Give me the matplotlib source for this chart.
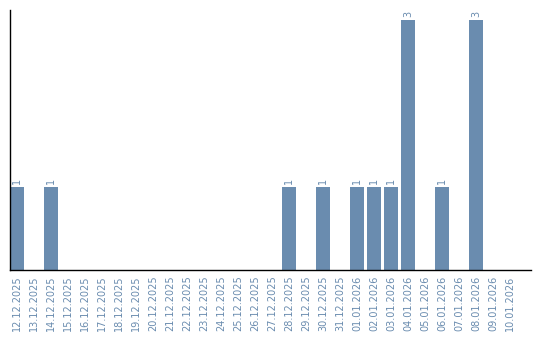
import matplotlib

matplotlib.use("Agg")
import matplotlib.pyplot as plt
import pandas as pd

dates = pd.date_range("2025-12-12", "2026-01-10", freq="D").strftime("%d.%m.%Y").tolist()
counts = [1, 0, 1, 0, 0, 0, 0, 0, 0, 0, 0, 0, 0, 0, 0, 0, 1, 0, 1, 0, 1, 1, 1, 3, 0, 1, 0, 3, 0, 0]

BAR = "#6a8caf"
BAR_W = 14 / 17

fig = plt.figure(figsize=(5.4, 3.4), dpi=100)
ax = fig.add_axes([0.0185, 0.206, 0.965, 0.765])
x = list(range(len(dates)))
centers = [xi + BAR_W / 2 for xi in x]
ax.bar(x, counts, width=BAR_W, align="edge", color=BAR)
for xc, c in zip(centers, counts):
    if c:
        ax.text(xc, c + 0.03, str(c), rotation=90, ha="center", va="bottom", fontsize=7, color=BAR)

ax.set_xlim(0, 521 / 17)
ax.set_ylim(0, 3.12)
ax.set_xticks(centers)
ax.set_xticklabels(dates, rotation=90, fontsize=7, color=BAR)
ax.tick_params(axis="x", length=0, pad=4)
ax.set_yticks([])
ax.spines["top"].set_visible(False)
ax.spines["right"].set_visible(False)
ax.spines["left"].set_linewidth(1)
ax.spines["bottom"].set_linewidth(1)
fig.savefig("out.png")
plt.close(fig)
